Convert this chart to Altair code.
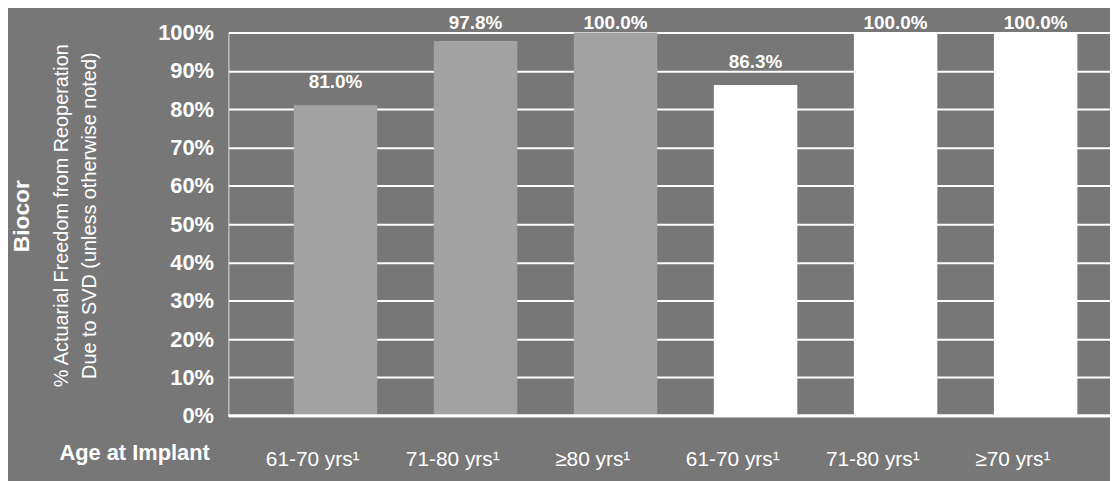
import altair as alt
import pandas as pd

# ---- data ----
keys = ["g1a", "g1b", "g1c", "g2a", "g2b", "g2c"]
age_labels = ["61-70 yrs¹", "71-80 yrs¹", "≥80 yrs¹", "61-70 yrs¹", "71-80 yrs¹", "≥70 yrs¹"]
values = [81.0, 97.8, 100.0, 86.3, 100.0, 100.0]
groups = ["A", "A", "A", "B", "B", "B"]
y_ticks = list(range(0, 101, 10))

FONT = "Liberation Sans"
BG = "#777777"

df = pd.DataFrame({"key": keys, "age": age_labels, "value": values, "group": groups})
df["label"] = [f"{v:.1f}%" for v in values]

label_map = "{" + ",".join(f"'{k}':'{a}'" for k, a in zip(keys, age_labels)) + "}"

x = alt.X(
    "key:N",
    sort=keys,
    scale=alt.Scale(paddingInner=0.404, paddingOuter=0.35, align=0.667),
    axis=alt.Axis(
        title="Age at Implant",
        labelExpr=f"{label_map}[datum.value]",
        labelAngle=0,
        ticks=False,
        tickSize=0,
        domain=False,
        grid=False,
        labelFont=FONT,
        labelFontSize=21,
        labelColor="white",
        labelBaseline="alphabetic",
        labelPadding=50,
        labelOffset=-23,
        titleX=-95,
        titleY=44,
        titleAlign="center",
        titleBaseline="alphabetic",
        titleFont=FONT,
        titleFontSize=22,
        titleFontWeight="bold",
        titleColor="white",
    ),
)

y_scale = alt.Scale(domain=[0, 100])
y_axis = alt.Axis(
    values=y_ticks,
    labelExpr="datum.value + '%'",
    labelOverlap=False,
    title=["% Actuarial Freedom from Reoperation", "Due to SVD (unless otherwise noted)"],
    titleAngle=270,
    titleX=-168,
    titleY=184,
    titleAlign="center",
    titleBaseline="middle",
    titleLineHeight=28,
    titleFont=FONT,
    titleFontSize=20,
    titleFontWeight="normal",
    titleColor="white",
    labelFont=FONT,
    labelFontSize=22,
    labelFontWeight="bold",
    labelColor="white",
    labelPadding=15,
    grid=True,
    gridColor="white",
    gridWidth=2,
    gridOpacity=1,
    domain=False,
    ticks=False,
)
y = alt.Y("value:Q", scale=y_scale, axis=y_axis)

bars = alt.Chart(df).mark_bar().encode(
    x=x,
    y=y,
    color=alt.Color("group:N", scale=alt.Scale(domain=["A", "B"], range=["#a2a2a2", "#ffffff"]), legend=None),
)

texts = (
    alt.Chart(df)
    .transform_calculate(pos="min(datum.value + 4.5, 101)")
    .mark_text(baseline="alphabetic", fontSize=19, fontWeight="bold", color="white", font=FONT)
    .encode(x=x, y=alt.Y("pos:Q", scale=y_scale, axis=y_axis), text="label:N")
)

base_rule = alt.Chart(pd.DataFrame({"v": [0]})).mark_rule(color="white", strokeWidth=3).encode(
    y=alt.YDatum(0, type="quantitative", scale=y_scale, axis=y_axis)
)

side_title = alt.Chart(pd.DataFrame({"t": ["Biocor"]})).mark_text(
    angle=270, fontSize=23, fontWeight="bold", color="white", font=FONT
).encode(text="t:N", x=alt.value(-208), y=alt.value(185))

chart = (
    alt.layer(bars, texts, base_rule, side_title)
    .properties(
        width=888,
        height=386,
        autosize=alt.AutoSizeParams(type="none"),
        padding={"left": 222, "top": 23, "right": 0, "bottom": 64},
        background=BG,
    )
    .configure_view(stroke="transparent", strokeWidth=0)
    .configure(font=FONT)
)

chart.save("out.html", embed_options={"renderer": "svg", "actions": False})
